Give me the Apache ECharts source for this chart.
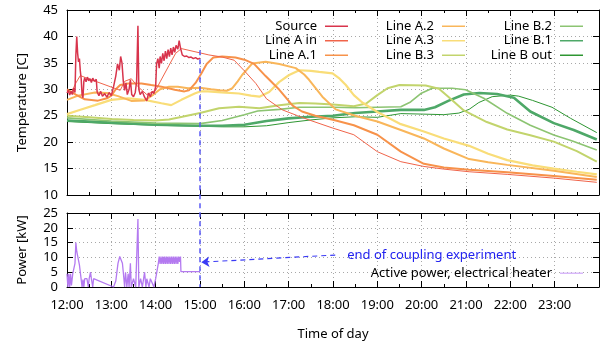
<!DOCTYPE html>
<html>
<head>
<meta charset="utf-8">
<script src="https://cdn.jsdelivr.net/npm/echarts@6.0.0/dist/echarts.min.js"></script>
<style>
html, body { margin: 0; padding: 0; background: #fff; }
#main { width: 607px; height: 345px; }
</style>
</head>
<body>
<div id="main"></div>
<script>
// time is in decimal hours of the day
var hourLabels = ['12:00','13:00','14:00','15:00','16:00','17:00','18:00','19:00','20:00','21:00','22:00','23:00'];
var tempRange = [10, 45];
var powerRange = [0, 25];

var seriesNames = ['Source','Line A in','Line A.1','Line A.2','Line A.3','Line B.3','Line B.2','Line B.1','Line B out'];
var seriesColors = ['#d8344c','#f0644a','#f7924a','#f9b65a','#f9dd78','#c2d46c','#8cc472','#4ea868','#2e9632'];
var seriesWidths = [1.5, 1, 2, 2, 2.2, 2, 1.6, 2.6, 1];

var source = [
  [12.00,29.3],[12.03,29.8],[12.06,28.9],[12.09,29.6],[12.12,29.0],[12.15,30.2],[12.18,29.4],[12.20,36.5],
  [12.22,40.0],[12.24,36.8],[12.26,35.2],[12.28,35.8],[12.30,33.5],[12.32,32.0],[12.34,29.0],[12.36,28.4],
  [12.38,31.5],[12.40,32.2],[12.43,31.4],[12.46,32.3],[12.49,31.6],[12.52,32.0],[12.55,31.3],[12.58,32.1],
  [12.62,31.5],[12.66,31.9],[12.68,29.5],[12.72,28.8],[12.76,29.6],[12.80,28.7],[12.85,29.2],[12.90,28.5],
  [12.95,29.4],[13.00,28.8],[13.05,30.5],[13.10,32.5],[13.14,34.8],[13.18,33.6],[13.21,36.2],[13.24,35.0],
  [13.27,31.5],[13.30,29.8],[13.33,31.2],[13.36,29.0],[13.40,30.0],[13.43,31.8],[13.46,29.0],[13.50,28.6],
  [13.54,29.4],[13.57,31.5],[13.60,42.0],[13.62,30.0],[13.65,29.0],[13.70,29.6],[13.75,28.5],[13.80,27.8],
  [13.84,29.3],[13.88,28.6],[13.92,29.6],[13.96,29.2],[14.00,30.5],[14.02,34.8],[14.05,35.8],[14.08,34.0],
  [14.10,36.2],[14.13,34.9],[14.16,36.8],[14.19,35.4],[14.22,37.2],[14.25,35.8],[14.28,37.5],[14.31,36.2],
  [14.34,37.8],[14.37,36.5],[14.40,38.0],[14.43,37.0],[14.46,38.3],[14.50,37.6],[14.53,39.2],[14.56,37.8],
  [14.60,36.5],[14.65,36.2],[14.70,36.3],[14.75,36.0],[14.80,36.1],[14.85,35.8],[14.90,36.0],[14.95,35.7],
  [15.00,35.9]
];
var lineAin = [
  [12.0,30.0],[12.1,29.4],[12.2,31.2],[12.3,32.6],[12.42,32.2],[13.2,29.8],[13.3,31.5],[13.45,32.0],
  [13.6,30.5],[13.8,29.0],[14.0,29.8],[14.1,31.4],[14.3,34.5],[14.45,36.8],[14.58,37.7],[15.2,36.5],
  [15.5,36.1],[15.77,35.5],[16.0,33.5],[16.26,31.1],[16.5,28.2],[16.86,26.1],[17.2,25.0],[17.46,24.2],
  [17.98,22.7],[18.47,21.4],[19.0,18.2],[19.53,16.3],[20.05,15.4],[20.5,14.9],[21.07,14.4],[21.93,13.9],
  [22.98,13.2],[23.95,12.4]
];
var lineA1 = [
  [12.0,30.0],[12.2,29.0],[12.4,28.1],[12.7,27.85],[12.9,28.3],[13.0,28.8],[13.1,30.0],[13.2,30.8],
  [13.38,31.1],[13.68,31.1],[13.9,30.8],[14.13,30.5],[14.43,29.9],[14.65,29.6],[14.75,29.8],[14.9,31.2],
  [15.03,33.0],[15.15,34.8],[15.3,36.0],[15.5,36.2],[15.8,36.0],[16.0,35.6],[16.22,34.8],[16.48,32.5],
  [16.79,29.9],[17.09,26.9],[17.3,25.8],[17.6,25.0],[18.02,24.2],[18.47,23.2],[19.0,21.4],[19.53,18.2],
  [20.05,15.9],[20.5,15.2],[21.07,14.8],[21.93,14.3],[22.98,13.6],[23.95,12.9]
];
var lineA2 = [
  [12.0,28.0],[12.25,28.8],[12.63,29.4],[12.9,29.3],[13.15,28.7],[13.45,27.8],[13.75,27.9],[13.95,29.0],
  [14.1,30.0],[14.3,30.5],[14.5,30.5],[14.73,30.2],[15.0,30.3],[15.25,30.0],[15.45,29.8],[15.6,29.7],
  [15.73,30.2],[15.85,31.5],[15.95,32.7],[16.18,34.9],[16.48,35.2],[16.79,34.8],[17.16,34.0],[17.35,32.8],
  [17.46,31.8],[17.76,28.6],[18.06,26.2],[18.5,25.0],[19.0,23.9],[19.53,22.3],[20.05,20.7],[20.5,18.8],
  [21.07,16.8],[21.5,16.2],[21.93,15.7],[22.98,14.6],[23.95,13.4]
];
var lineA3 = [
  [12.0,25.3],[12.25,26.0],[12.63,27.0],[13.0,28.0],[13.38,28.3],[13.75,28.0],[14.13,27.35],[14.35,27.0],
  [14.58,28.0],[14.88,29.2],[15.0,29.6],[15.18,29.6],[15.48,29.4],[15.88,29.2],[16.15,28.8],[16.34,28.6],
  [16.56,29.5],[16.79,31.4],[17.01,32.7],[17.24,33.6],[17.5,33.5],[17.69,33.3],[17.99,33.0],[18.15,32.0],
  [18.29,30.8],[18.47,28.9],[18.66,27.5],[19.0,25.7],[19.53,23.4],[20.05,22.0],[20.5,20.7],[21.07,19.3],
  [21.5,17.8],[21.93,16.6],[22.5,15.6],[22.98,15.0],[23.5,14.4],[23.95,13.9]
];
var lineB3 = [
  [12.0,25.0],[12.5,24.7],[13.0,24.4],[13.5,24.2],[14.0,24.1],[14.3,24.3],[14.6,24.8],[15.0,25.5],
  [15.43,26.4],[15.88,26.7],[16.34,26.4],[16.79,27.0],[17.24,27.4],[17.6,27.3],[18.0,27.1],[18.47,26.8],
  [18.75,27.3],[19.0,28.9],[19.23,30.2],[19.5,30.8],[20.09,30.7],[20.39,30.1],[20.6,28.6],[20.95,26.0],
  [21.47,23.8],[21.93,22.4],[22.45,21.3],[22.98,20.1],[23.5,18.3],[23.95,16.3]
];
var lineB2 = [
  [12.0,24.6],[13.0,24.0],[14.0,23.6],[15.0,23.5],[15.5,24.1],[16.0,25.2],[16.3,25.9],[16.79,26.2],
  [17.24,26.6],[18.0,26.6],[18.5,26.5],[19.0,26.6],[19.53,26.7],[19.75,27.6],[19.98,29.2],[20.24,30.2],
  [20.69,30.2],[20.99,29.9],[21.4,28.3],[21.93,25.45],[22.45,23.2],[22.98,21.35],[23.4,20.2],[23.95,18.5]
];
var lineB1 = [
  [12.0,24.1],[13.0,23.7],[14.0,23.3],[15.0,23.1],[15.5,23.1],[16.0,23.3],[16.5,24.0],[17.0,24.5],
  [17.5,24.8],[18.0,25.0],[18.5,25.5],[19.0,25.8],[19.53,26.1],[20.05,26.1],[20.3,26.6],[20.6,27.8],
  [20.95,29.0],[21.3,29.3],[21.7,29.1],[22.08,28.4],[22.45,25.8],[22.98,23.6],[23.43,22.3],[23.95,20.5]
];
var lineBout = [
  [12.0,23.9],[13.0,23.5],[14.0,23.2],[15.0,23.0],[15.5,22.9],[16.0,22.9],[16.5,23.1],[17.0,23.7],
  [17.5,24.2],[18.0,24.6],[18.5,24.8],[19.0,24.7],[19.53,25.4],[20.05,25.3],[20.5,25.2],[20.84,25.5],
  [21.07,26.2],[21.29,27.5],[21.59,28.6],[22.0,28.9],[22.19,28.7],[22.5,27.9],[22.94,26.6],[23.36,24.5],
  [23.95,21.8]
];
var power = [
  [12.00,4.5],[12.02,0],[12.04,4.5],[12.06,0],[12.08,4.5],[12.10,0.5],[12.13,4.5],[12.16,4.5],[12.18,8],
  [12.20,15],[12.22,12],[12.24,10.5],[12.26,10],[12.28,7.5],[12.30,5],[12.32,5],[12.34,0],[12.36,2.5],
  [12.38,0],[12.40,2.8],[12.45,2.8],[12.48,0],[12.50,2.8],[12.53,5],[12.55,2.8],[12.58,0],[12.60,2.8],
  [12.63,2.8],[13.05,0],[13.10,2],[13.15,8],[13.19,10.3],[13.22,10],[13.25,8],[13.27,5],[13.30,0],
  [13.32,5],[13.35,0],[13.38,4.5],[13.40,0],[13.43,8],[13.45,0],[13.50,2.8],[13.55,0],[13.58,0],
  [13.60,23],[13.62,0],[13.66,2.8],[13.70,0],[13.75,5.0],[13.78,0],[13.80,2.8],[13.85,0],[13.88,2.8],
  [13.92,2.8],[13.96,0],[14.00,2.8],[14.04,2.8],[14.06,8],[14.08,10.3],[14.10,7.8],[14.12,10.3],
  [14.14,7.8],[14.16,10.3],[14.18,7.8],[14.20,10.3],[14.22,7.8],[14.24,10.3],[14.26,7.8],[14.28,10.3],
  [14.30,7.8],[14.32,10.3],[14.34,7.8],[14.36,10.3],[14.38,7.8],[14.40,10.3],[14.42,7.8],[14.44,10.3],
  [14.46,7.8],[14.48,10.3],[14.50,7.8],[14.52,10.3],[14.54,8.5],[14.56,10.3],[14.57,5.2],[15.00,5.2]
];
var tempData = [source, lineAin, lineA1, lineA2, lineA3, lineB3, lineB2, lineB1, lineBout];

var FONT = '"Noto Sans", sans-serif';
var chart = echarts.init(document.getElementById('main'));

function xAxisFor(grid, pos, showLabels, name) {
  return {
    type: 'value', gridIndex: grid, position: pos,
    min: 12, max: 24, interval: 1,
    name: name || '', nameLocation: 'middle', nameGap: 41,
    nameTextStyle: { fontFamily: FONT, fontSize: 13, color: '#000' },
    axisLine: { show: true, onZero: false, lineStyle: { color: '#000', width: 1 } },
    axisTick: { show: true, inside: true, length: 6, lineStyle: { color: '#000' } },
    minorTick: { show: true, splitNumber: 2, length: 3, lineStyle: { color: '#000' } },
    axisLabel: {
      show: showLabels, showMaxLabel: false, margin: 12,
      fontFamily: FONT, fontSize: 13, color: '#000',
      formatter: function (v) { return hourLabels[Math.round(v) - 12] || ''; }
    },
    splitLine: { show: pos === 'bottom', lineStyle: { color: '#a8a8a8', width: 1, type: [1, 3] } }
  };
}

function yAxisFor(grid, pos, range, name) {
  return {
    type: 'value', gridIndex: grid, position: pos,
    min: range[0], max: range[1], interval: 5,
    name: name || '', nameLocation: 'middle', nameGap: 38,
    nameTextStyle: { fontFamily: FONT, fontSize: 13, color: '#000' },
    axisLine: { show: true, onZero: false, lineStyle: { color: '#000', width: 1 } },
    axisTick: { show: true, inside: true, length: 6, lineStyle: { color: '#000' } },
    axisLabel: { show: pos === 'left', margin: 9, fontFamily: FONT, fontSize: 13, color: '#000' },
    splitLine: { show: pos === 'left', lineStyle: { color: '#a8a8a8', width: 1, type: [1, 3] } }
  };
}

var series = [];
for (var i = tempData.length - 1; i >= 0; i--) {
  series.push({
    name: seriesNames[i], type: 'line', xAxisIndex: 0, yAxisIndex: 0,
    data: tempData[i], showSymbol: false, color: seriesColors[i],
    lineStyle: { width: seriesWidths[i], color: seriesColors[i] },
    z: 2 + (tempData.length - i)
  });
}
series.push({
  name: 'Active power, electrical heater', type: 'line', xAxisIndex: 2, yAxisIndex: 2,
  data: power, showSymbol: false, color: '#b47af0',
  lineStyle: { width: 1.3, color: '#b47af0' },
  markLine: {
    silent: true, symbol: ['none', 'arrow'], symbolSize: 8,
    label: { show: false },
    lineStyle: { color: '#3a3af5', width: 1.2, type: [5, 4] },
    data: [[{ coord: [18.05, 10.8] }, { coord: [15.03, 8.4] }]]
  }
});

function legendCol(names, right, top) {
  return {
    data: names, orient: 'vertical', right: right, top: top, align: 'right',
    padding: 0, itemGap: 0, icon: 'rect', itemWidth: 23, itemHeight: 1.5,
    selectedMode: false,
    textStyle: { fontFamily: FONT, fontSize: 13, lineHeight: 14.5, color: '#000', padding: [0, 3, 0, 0] }
  };
}

chart.setOption({
  animation: false,
  backgroundColor: '#fff',
  grid: [
    { left: 67, right: 8, top: 10, height: 185 },
    { left: 67, right: 8, top: 213, height: 74 }
  ],
  xAxis: [
    xAxisFor(0, 'bottom', false),
    xAxisFor(0, 'top', false),
    xAxisFor(1, 'bottom', true, 'Time of day'),
    xAxisFor(1, 'top', false)
  ],
  yAxis: [
    yAxisFor(0, 'left', tempRange, 'Temperature [C]'),
    yAxisFor(0, 'right', tempRange),
    yAxisFor(1, 'left', powerRange, 'Power [kW]'),
    yAxisFor(1, 'right', powerRange)
  ],
  legend: [
    legendCol(seriesNames.slice(0, 3), 259, 19),
    legendCol(seriesNames.slice(3, 6), 142, 19),
    legendCol(seriesNames.slice(6, 9), 24, 19),
    legendCol([{ name: 'Active power, electrical heater', itemStyle: { color: '#d8b8fa' } }], 24, 266)
  ],
  series: series
});

// annotation: end of the coupling experiment at 15:00
var pTop = chart.convertToPixel({ gridIndex: 0 }, [15, 37.4]);
var pBot = chart.convertToPixel({ gridIndex: 1 }, [15, 0]);
var pTxt = chart.convertToPixel({ gridIndex: 1 }, [18.32, 10.8]);
chart.setOption({
  graphic: [
    { type: 'line', z: 100, shape: { x1: pTop[0], y1: pTop[1], x2: pBot[0], y2: pBot[1] },
      style: { stroke: '#5a5af5', lineWidth: 1.5, lineDash: [5, 4] } },
    { type: 'text', z: 100, x: pTxt[0], y: pTxt[1],
      style: { text: 'end of coupling experiment', fill: '#2323f0', font: '13px "Noto Sans"', verticalAlign: 'middle' } }
  ]
});
</script>
</body>
</html>
